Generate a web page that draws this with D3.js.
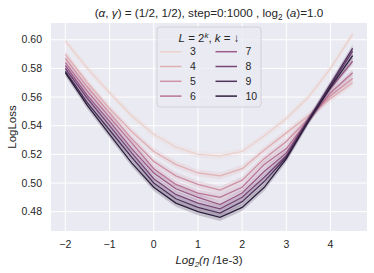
<!DOCTYPE html>
<html>
<head>
<meta charset="utf-8">
<script src="https://cdn.jsdelivr.net/npm/d3@7"></script>
<style>
  body { margin: 0; background: #fff; }
  text { font-family: "Liberation Sans", Arial, sans-serif; fill: #262626; }
</style>
</head>
<body>
<div id="chart"></div>
<script>
// x positions: log2(eta / 1e-3)
var etaLog = [-2, -1.5, -1, -0.5, 0, 0.5, 1, 1.5, 2, 2.5, 3, 3.5, 4, 4.5];
// depth exponent k, L = 2^k
var depthK = [3, 4, 5, 6, 7, 8, 9, 10];

// mean LogLoss per k
var loss3  = [0.599, 0.580, 0.563, 0.547, 0.534, 0.525, 0.520, 0.519, 0.522, 0.533, 0.545, 0.560, 0.580, 0.604];
var loss4  = [0.590, 0.570, 0.552, 0.536, 0.522, 0.513, 0.507, 0.505, 0.510, 0.523, 0.535, 0.547, 0.559, 0.570];
var loss5  = [0.587, 0.567, 0.549, 0.531, 0.515, 0.505, 0.499, 0.495, 0.502, 0.517, 0.529, 0.545, 0.561, 0.573];
var loss6  = [0.584, 0.564, 0.546, 0.528, 0.510, 0.499, 0.493, 0.490, 0.497, 0.513, 0.524, 0.544, 0.563, 0.577];
var loss7  = [0.582, 0.561, 0.543, 0.524, 0.507, 0.496, 0.490, 0.485, 0.493, 0.508, 0.521, 0.544, 0.566, 0.585];
var loss8  = [0.580, 0.559, 0.540, 0.521, 0.503, 0.492, 0.486, 0.482, 0.490, 0.504, 0.519, 0.544, 0.568, 0.592];
var loss9  = [0.578, 0.556, 0.537, 0.518, 0.500, 0.489, 0.483, 0.479, 0.487, 0.501, 0.518, 0.544, 0.569, 0.594];
var loss10 = [0.577, 0.554, 0.534, 0.514, 0.497, 0.486, 0.480, 0.476, 0.483, 0.497, 0.517, 0.543, 0.567, 0.589];
var lossByK = [loss3, loss4, loss5, loss6, loss7, loss8, loss9, loss10];

// half width of the confidence band per k
var ciHalf = [0.0025, 0.0025, 0.0025, 0.0025, 0.0025, 0.0025, 0.0025, 0.0025];

var xTicks = [-2, -1, 0, 1, 2, 3, 4];
var yTicks = [0.48, 0.50, 0.52, 0.54, 0.56, 0.58, 0.60];

var width = 374, height = 273;
var margin = {top: 23, right: 7, bottom: 42, left: 51};

var svg = d3.select("#chart")
    .append("svg")
    .attr("width", width)
    .attr("height", height);

var x = d3.scaleLinear().domain([-2.325, 4.825]).range([margin.left, width - margin.right]);
var y = d3.scaleLinear().domain([0.4665, 0.6117]).range([height - margin.bottom, margin.top]);

// seaborn default cubehelix (light .85 -> dark .15)
function helix(t) {
    var a = 0.8 * t * (1 - t) / 2;
    var phi = 2 * Math.PI * (0.4 * t);
    var c = Math.cos(phi), s = Math.sin(phi);
    var r = t + a * (-0.14861 * c + 1.78277 * s);
    var g = t + a * (-0.29227 * c - 0.90649 * s);
    var b = t + a * (1.97294 * c);
    var cl = function(v) { return Math.round(255 * Math.max(0, Math.min(1, v))); };
    return d3.rgb(cl(r), cl(g), cl(b)).formatHex();
}
function kColor(k) {
    var u = (k - 3) / 7;
    return helix(0.85 - 0.7 * u);
}

// background
svg.append("rect")
    .attr("x", margin.left)
    .attr("y", margin.top)
    .attr("width", width - margin.left - margin.right)
    .attr("height", height - margin.top - margin.bottom)
    .attr("fill", "#eaeaf2");

// grid
svg.append("g").selectAll("line")
    .data(xTicks)
    .enter().append("line")
    .attr("x1", d => x(d)).attr("x2", d => x(d))
    .attr("y1", margin.top).attr("y2", height - margin.bottom)
    .attr("stroke", "#fff").attr("stroke-width", 1);

svg.append("g").selectAll("line")
    .data(yTicks)
    .enter().append("line")
    .attr("y1", d => y(d)).attr("y2", d => y(d))
    .attr("x1", margin.left).attr("x2", width - margin.right)
    .attr("stroke", "#fff").attr("stroke-width", 1);

// tick labels
svg.append("g").selectAll("text")
    .data(xTicks)
    .enter().append("text")
    .attr("x", d => x(d))
    .attr("y", height - margin.bottom + 17)
    .attr("text-anchor", "middle")
    .style("font-size", "10.5px")
    .text(d => d < 0 ? "\u2212" + Math.abs(d) : d);

svg.append("g").selectAll("text")
    .data(yTicks)
    .enter().append("text")
    .attr("x", margin.left - 9)
    .attr("y", d => y(d))
    .attr("dy", "0.35em")
    .attr("text-anchor", "end")
    .style("font-size", "10.5px")
    .text(d => d.toFixed(2));

// lines + bands
var line = d3.line()
    .x((d, i) => x(etaLog[i]))
    .y(d => y(d));

var plot = svg.append("g");
depthK.forEach(function(k, j) {
    var vals = lossByK[j];
    var band = d3.area()
        .x((d, i) => x(etaLog[i]))
        .y0(d => y(d - ciHalf[j]))
        .y1(d => y(d + ciHalf[j]));
    plot.append("path")
        .datum(vals)
        .attr("d", line)
        .attr("fill", "none")
        .attr("stroke", kColor(k))
        .attr("stroke-width", 1.3);
    plot.append("path")
        .datum(vals)
        .attr("d", band)
        .attr("fill", kColor(k))
        .attr("fill-opacity", 0.2);
});

// title
var title = svg.append("text")
    .attr("x", (margin.left + width - margin.right) / 2)
    .attr("y", 17)
    .attr("text-anchor", "middle")
    .style("font-size", "11.7px");
title.append("tspan").text("(");
title.append("tspan").style("font-style", "italic").text("\u03b1");
title.append("tspan").text(", ");
title.append("tspan").style("font-style", "italic").text("\u03b3");
title.append("tspan").text(") = (1/2, 1/2), step=0:1000 , log");
title.append("tspan").attr("dy", 3).style("font-size", "8.2px").text("2");
title.append("tspan").attr("dy", -3).text(" (");
title.append("tspan").style("font-style", "italic").text("a");
title.append("tspan").text(")=1.0");

// axis labels
var xl = svg.append("text")
    .attr("x", (margin.left + width - margin.right) / 2)
    .attr("y", 264)
    .attr("text-anchor", "middle")
    .style("font-size", "11.5px");
xl.append("tspan").style("font-style", "italic").text("Log");
xl.append("tspan").attr("dy", 3).style("font-size", "8px").style("font-style", "italic").text("2");
xl.append("tspan").attr("dy", -3).style("font-style", "italic").text("(\u03b7");
xl.append("tspan").text(" /1e-3)");

svg.append("text")
    .attr("transform", "translate(16," + ((margin.top + height - margin.bottom) / 2) + ") rotate(-90)")
    .attr("text-anchor", "middle")
    .style("font-size", "11.5px")
    .text("LogLoss");

// legend
var lg = svg.append("g").attr("transform", "translate(157,27)");
lg.append("rect")
    .attr("width", 104).attr("height", 80)
    .attr("rx", 3)
    .attr("fill", "#eaeaf2").attr("fill-opacity", 0.8)
    .attr("stroke", "#cccccc").attr("stroke-width", 0.8);

var lt = lg.append("text")
    .attr("x", 52).attr("y", 14.5)
    .attr("text-anchor", "middle")
    .style("font-size", "11.5px");
lt.append("tspan").style("font-style", "italic").text("L");
lt.append("tspan").text(" = 2");
lt.append("tspan").attr("dy", -4).style("font-size", "8px").style("font-style", "italic").text("k");
lt.append("tspan").attr("dy", 4).text(", ");
lt.append("tspan").style("font-style", "italic").text("k");
lt.append("tspan").text(" = \u2193");

var items = lg.selectAll("g.item")
    .data(depthK)
    .enter().append("g")
    .attr("class", "item")
    .attr("transform", (k, i) => "translate(" + (i < 4 ? 3 : 58.5) + "," + (24.7 + (i % 4) * 14.8) + ")");
items.append("line")
    .attr("x1", 0).attr("x2", 21.5)
    .attr("stroke", k => kColor(k))
    .attr("stroke-width", 1.5);
items.append("text")
    .attr("x", 30).attr("dy", "0.35em")
    .style("font-size", "10.5px")
    .text(k => k);
</script>
</body>
</html>
